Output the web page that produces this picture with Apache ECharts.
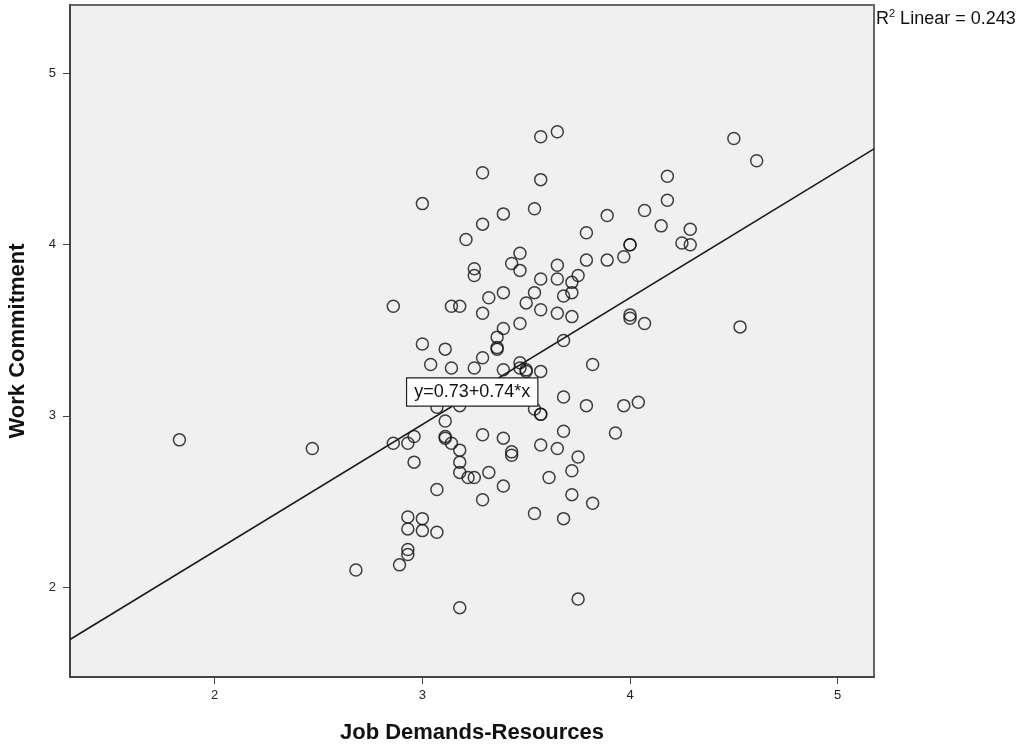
<!DOCTYPE html>
<html>
<head>
    <meta charset="utf-8">
    <title>Work Commitment vs Job Demands-Resources</title>
    <script src="https://cdn.jsdelivr.net/npm/echarts@6/dist/echarts.min.js"></script>
</head>
<body style="margin:0;background:#fff;">
    <div id="main" style="width: 1021px;height:746px;"></div>
    <script type="text/javascript">
        // scatter data
        var jobDemands = [1.83, 2.47, 2.68, 2.86, 2.86, 2.89, 2.93, 2.96, 2.96, 2.93, 2.93, 2.93, 2.93,
            3.00, 3.00, 3.00, 3.00, 3.04, 3.07, 3.07, 3.07, 3.11, 3.11, 3.11, 3.11,
            3.14, 3.14, 3.14, 3.18, 3.18, 3.18, 3.18, 3.18, 3.18, 3.22, 3.21,
            3.25, 3.25, 3.25, 3.25, 3.29, 3.29, 3.29, 3.29, 3.29, 3.29, 3.32, 3.32,
            3.36, 3.36, 3.36, 3.39, 3.39, 3.39, 3.39, 3.39, 3.39, 3.43, 3.43, 3.43,
            3.47, 3.47, 3.47, 3.47, 3.47, 3.50, 3.50, 3.50, 3.54, 3.54, 3.54, 3.54,
            3.57, 3.57, 3.57, 3.57, 3.57, 3.57, 3.57, 3.57, 3.61,
            3.65, 3.65, 3.65, 3.65, 3.65, 3.68, 3.68, 3.68, 3.68, 3.68,
            3.72, 3.72, 3.72, 3.72, 3.72, 3.75, 3.75, 3.75, 3.79, 3.79, 3.79,
            3.82, 3.82, 3.89, 3.89, 3.93, 3.97, 3.97, 4.00, 4.00, 4.00, 4.00,
            4.04, 4.07, 4.07, 4.15, 4.18, 4.18, 4.25, 4.29, 4.29, 4.50, 4.53, 4.61];
        var workCommitment = [2.86, 2.81, 2.10, 3.64, 2.84, 2.13, 2.84, 2.88, 2.73, 2.41, 2.34, 2.22, 2.19,
            4.24, 3.42, 2.40, 2.33, 3.30, 2.57, 2.32, 3.05, 3.39, 2.97, 2.88, 2.87,
            3.64, 3.28, 2.84, 3.64, 2.80, 2.73, 2.67, 1.88, 3.06, 2.64, 4.03,
            3.86, 3.82, 3.28, 2.64, 4.42, 4.12, 3.60, 3.34, 2.89, 2.51, 3.69, 2.67,
            3.46, 3.40, 3.39, 4.18, 3.72, 3.51, 3.27, 2.87, 2.59, 3.89, 2.79, 2.77,
            3.95, 3.85, 3.54, 3.31, 3.28, 3.66, 3.27, 3.26, 4.21, 3.72, 2.43, 3.04,
            4.63, 4.38, 3.80, 3.62, 3.26, 3.01, 3.01, 2.83, 2.64,
            4.66, 3.88, 3.80, 3.60, 2.81, 3.70, 3.44, 3.11, 2.91, 2.40,
            3.78, 3.72, 3.58, 2.68, 2.54, 3.82, 2.76, 1.93, 4.07, 3.91, 3.06,
            3.30, 2.49, 4.17, 3.91, 2.90, 3.93, 3.06, 4.00, 4.00, 3.59, 3.57,
            3.08, 4.20, 3.54, 4.11, 4.40, 4.26, 4.01, 4.09, 4.00, 4.62, 3.52, 4.49];

        // linear fit
        var fitIntercept = 0.73;
        var fitSlope = 0.74;
        var rSquared = 0.243;

        var xTicks = [2, 3, 4, 5];
        var yTicks = [2, 3, 4, 5];
        var xRange = [1.303, 5.175];
        var yRange = [1.475, 5.40];

        var points = jobDemands.map(function (x, i) { return [x, workCommitment[i]]; });
        var fitLine = xRange.map(function (x) { return [x, fitIntercept + fitSlope * x]; });

        var myChart = echarts.init(document.getElementById('main'));

        var option = {
            animation: false,
            backgroundColor: '#ffffff',
            textStyle: { fontFamily: 'Liberation Sans, Arial, sans-serif' },
            grid: {
                left: 70, right: 147, top: 5, bottom: 69,
                outerBoundsMode: 'none',
                containLabel: false,
                show: true,
                backgroundColor: '#f0f0f0',
                borderColor: '#666',
                borderWidth: 2
            },
            xAxis: {
                type: 'value',
                min: xRange[0], max: xRange[1],
                name: 'Job Demands-Resources',
                nameLocation: 'middle',
                nameGap: 45,
                nameTextStyle: { fontSize: 22, fontWeight: 'bold', color: '#111' },
                splitLine: { show: false },
                axisLine: { show: true, lineStyle: { color: '#444', width: 2 } },
                axisTick: { show: true, customValues: xTicks, length: 7, lineStyle: { color: '#444' } },
                axisLabel: { customValues: xTicks, color: '#222', fontSize: 13, margin: 12 }
            },
            yAxis: {
                type: 'value',
                min: yRange[0], max: yRange[1],
                name: 'Work Commitment',
                nameLocation: 'middle',
                nameGap: 41,
                nameTextStyle: { fontSize: 22, fontWeight: 'bold', color: '#111' },
                splitLine: { show: false },
                axisLine: { show: true, lineStyle: { color: '#444', width: 2 } },
                axisTick: { show: true, customValues: yTicks, length: 7, lineStyle: { color: '#444' } },
                axisLabel: { customValues: yTicks, color: '#222', fontSize: 13, margin: 14 }
            },
            graphic: [{
                type: 'text',
                left: 876, top: 8,
                style: {
                    text: '{b|R}{s|2}{b| Linear = ' + rSquared + '}',
                    fontFamily: 'Liberation Sans, Arial, sans-serif',
                    fill: '#111',
                    rich: {
                        b: { fontSize: 18, fill: '#111', verticalAlign: 'bottom', lineHeight: 20 },
                        s: { fontSize: 11, fill: '#111', verticalAlign: 'top', lineHeight: 20 }
                    }
                }
            }],
            series: [{
                type: 'scatter',
                data: points,
                symbol: 'circle',
                symbolSize: 12,
                itemStyle: { color: 'rgba(0,0,0,0)', borderColor: '#111', borderWidth: 1.5 },
                z: 3
            }, {
                type: 'line',
                data: fitLine,
                showSymbol: false,
                lineStyle: { color: '#1a1a1a', width: 1.6 },
                z: 4,
                markPoint: {
                    symbol: 'rect',
                    symbolSize: 0,
                    data: [{ coord: [3.24, 3.14] }],
                    label: {
                        show: true,
                        position: 'inside',
                        formatter: 'y=' + fitIntercept + '+' + fitSlope + '*x',
                        fontSize: 18,
                        color: '#111',
                        backgroundColor: '#ffffff',
                        borderColor: '#222',
                        borderWidth: 1.2,
                        padding: [5, 7, 4, 7]
                    },
                    z: 10
                }
            }]
        };

        myChart.setOption(option);
    </script>
</body>
</html>
